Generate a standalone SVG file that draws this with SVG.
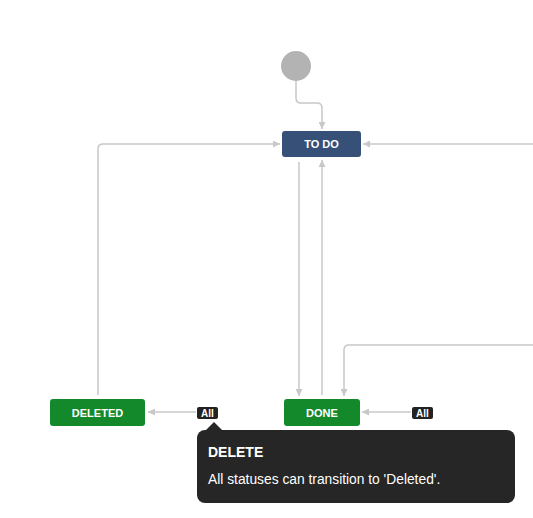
<svg xmlns="http://www.w3.org/2000/svg" width="533" height="518" viewBox="0 0 533 518">
<defs>
<style>
.conn{fill:none;stroke:#c8c8c8;stroke-width:1.5}
.lbl{font-family:"Liberation Sans",Arial,sans-serif;font-weight:bold;font-size:11px;fill:#fff;text-anchor:middle}
.badge{fill:#222}
.btxt{font-family:"Liberation Sans",Arial,sans-serif;font-weight:bold;font-size:10px;fill:#fff;text-anchor:middle}
</style>
<marker id="arr" viewBox="0 0 10 10" refX="10" refY="5" markerWidth="7" markerHeight="7" markerUnits="userSpaceOnUse" orient="auto">
<path d="M0,0 L10,5 L0,10 Z" fill="#c8c8c8"/>
</marker>
</defs>
<rect width="533" height="518" fill="#fff"/>
<g id="connectors">
<path class="conn" d="M296,81 V98 Q296,103 301,103 H317 Q322,103 322,108 V129" marker-end="url(#arr)"/>
<path class="conn" d="M98,395 V149 Q98,144 103,144 H280" marker-end="url(#arr)"/>
<path class="conn" d="M533,144 H363" marker-end="url(#arr)"/>
<path class="conn" d="M299,162 V396" marker-end="url(#arr)"/>
<path class="conn" d="M322,395 V160" marker-end="url(#arr)"/>
<path class="conn" d="M533,345 H349 Q344,345 344,350 V396" marker-end="url(#arr)"/>
<path class="conn" d="M196,412 H148" marker-end="url(#arr)"/>
<path class="conn" d="M411,412 H362" marker-end="url(#arr)"/>
</g>
<g id="start">
<circle cx="296" cy="66" r="15" fill="#b3b3b3"/>
</g>
<g id="todo">
<rect x="282" y="131" width="79" height="26" rx="3" fill="#375078"/>
<text class="lbl" x="321.5" y="148">TO DO</text>
</g>
<g id="deleted">
<rect x="50" y="399" width="95" height="27" rx="3" fill="#14892c"/>
<text class="lbl" x="97.5" y="416.5">DELETED</text>
</g>
<g id="done">
<rect x="284" y="399" width="76" height="27" rx="3" fill="#14892c"/>
<text class="lbl" x="322" y="416.5">DONE</text>
</g>
<g id="all-deleted">
<rect x="197" y="407" width="21" height="12" rx="2" class="badge"/>
<text class="btxt" x="207.5" y="416.5">All</text>
</g>
<g id="all-done">
<rect x="412" y="407" width="21" height="12" rx="2" class="badge"/>
<text class="btxt" x="422.5" y="416.5">All</text>
</g>
<g id="tooltip">
<path d="M205,431 L214,422 L223,431 Z" fill="#262626"/>
<rect x="197" y="430" width="318" height="73" rx="8" fill="#262626"/>
<text x="208" y="457" font-family="'Liberation Sans',Arial,sans-serif" font-weight="bold" font-size="14" fill="#fff">DELETE</text>
<text x="208" y="484" font-family="'Liberation Sans',Arial,sans-serif" font-size="13.8" fill="#fff">All statuses can transition to 'Deleted'.</text>
</g>
</svg>
